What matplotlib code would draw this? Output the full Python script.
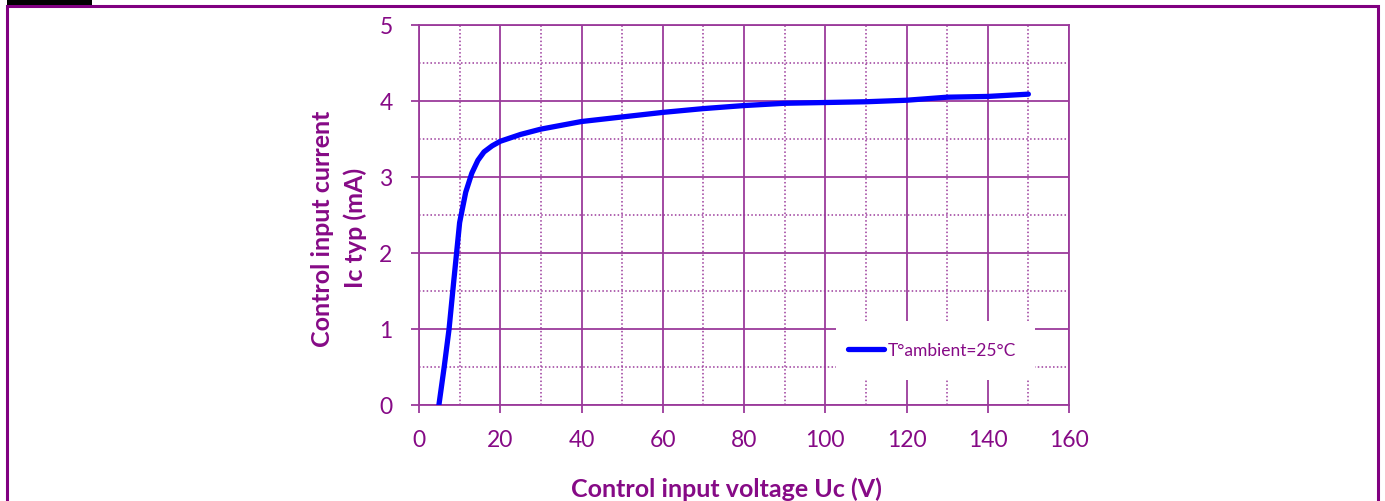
import numpy as np
import matplotlib
matplotlib.use("Agg")
import matplotlib.pyplot as plt
import matplotlib.ticker as ticker
from matplotlib.patches import Rectangle

plt.rcParams.update({
    "font.family": ["Lato", "DejaVu Sans"],
    "font.size": 15,
})

PURPLE = "#860A86"
GRID = "#9B3A9B"

# Curve (Uc in V, Ic in mA)
uc_volts = [4.9, 6.2, 7.4, 8.5, 10, 11.5, 13, 14.5, 16, 18, 20, 25, 30, 40,
            50, 60, 70, 80, 90, 100, 110, 120, 130, 140, 150]
ic_ma = [0, 0.5, 1.0, 1.6, 2.4, 2.8, 3.05, 3.22, 3.33, 3.41, 3.47, 3.56, 3.63,
         3.73, 3.79, 3.85, 3.90, 3.94, 3.97, 3.98, 3.99, 4.01, 4.05, 4.06, 4.09]
series_label = "T°ambient=25°C"

x_ticks = [0, 20, 40, 60, 80, 100, 120, 140, 160]
y_ticks = [0, 1, 2, 3, 4, 5]

W, H = 1385, 502
fig = plt.figure(figsize=(W / 100, H / 100), dpi=100)

# outer frame and black tab
fig.patches.append(Rectangle((7 / W, -0.1), (1378 - 7) / W, 1.1 - 7 / H,
                             transform=fig.transFigure, fill=False,
                             edgecolor="#800080", linewidth=2.2))
fig.patches.append(Rectangle((7 / W, 1 - 6 / H), (92 - 7) / W, 6 / H,
                             transform=fig.transFigure, facecolor="black",
                             edgecolor="none"))

ax = fig.add_axes([419 / W, 1 - 406 / H, 650 / W, 380 / H])
ax.set_xlim(0, 160)
ax.set_ylim(0, 5)
ax.set_xticks(x_ticks)
ax.set_yticks(y_ticks)
ax.xaxis.set_minor_locator(ticker.MultipleLocator(10))
ax.yaxis.set_minor_locator(ticker.MultipleLocator(0.5))

ax.grid(which="major", color=GRID, linewidth=1.3, linestyle="-")
ax.grid(which="minor", color=GRID, linewidth=1.1, linestyle=(0, (1, 1.5)))
ax.set_axisbelow(True)
for sp in ax.spines.values():
    sp.set_color(GRID)
    sp.set_linewidth(1.3)
ax.tick_params(which="major", direction="out", length=6, width=1.3,
               color=GRID, labelcolor=PURPLE, labelsize=16.5)
ax.tick_params(axis="x", which="major", pad=11)
ax.tick_params(axis="y", which="major", pad=13)
ax.tick_params(which="minor", length=0)

ax.plot(uc_volts, ic_ma, color="#0000FF", linewidth=3.8,
        solid_capstyle="round", label=series_label, zorder=3)

# white legend area hiding the grid
ax.add_patch(Rectangle((417 / 650, 25 / 380), 199 / 650, 59 / 380,
                       transform=ax.transAxes, facecolor="white",
                       edgecolor="none", zorder=2.5))
leg = ax.legend(loc="center left", bbox_to_anchor=(429 / 650, 54.5 / 380),
                fontsize=12.5, frameon=False, handlelength=2.1,
                handletextpad=0.2, borderpad=0, borderaxespad=0)
for t in leg.get_texts():
    t.set_color(PURPLE)

fig.text(726 / W, 1 - 489 / H, "Control input voltage Uc (V)",
         ha="center", va="center", color=PURPLE, fontsize=18, fontweight="bold")
fig.text(322 / W, 1 - 229 / H, "Control input current", rotation=90,
         ha="center", va="center", color=PURPLE, fontsize=18, fontweight="bold")
fig.text(355 / W, 1 - 228 / H, "Ic typ (mA)", rotation=90,
         ha="center", va="center", color=PURPLE, fontsize=18, fontweight="bold")

fig.savefig("out.png", dpi=100)
